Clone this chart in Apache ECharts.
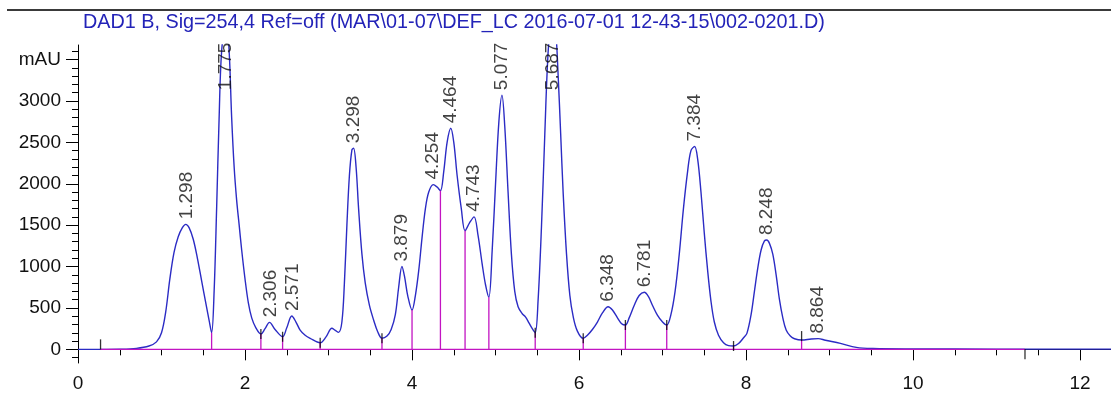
<!DOCTYPE html>
<html>
<head>
<meta charset="utf-8">
<script src="https://cdn.jsdelivr.net/npm/echarts@6/dist/echarts.min.js"></script>
<style>
  html, body { margin: 0; padding: 0; background: #fff; }
  #chart { width: 1111px; height: 396px; }
</style>
</head>
<body>
<div id="chart"></div>
<script>
// retention time (min) and signal (mAU)
const times = [0, 0.27, 0.5, 0.7, 0.85, 0.94, 1.0, 1.05, 1.1, 1.15, 1.2, 1.25, 1.29, 1.33, 1.38, 1.43, 1.48, 1.53, 1.57, 1.6,
  1.63, 1.66, 1.69, 1.72, 1.775, 1.81, 1.84, 1.87, 1.9, 1.93, 1.96, 2.0, 2.04, 2.08, 2.13, 2.19, 2.24, 2.293, 2.36, 2.45,
  2.5, 2.56, 2.61, 2.66, 2.72, 2.78, 2.9, 2.97, 3.04, 3.08, 3.12, 3.16, 3.19, 3.22, 3.25, 3.28, 3.3, 3.33, 3.36, 3.4, 3.44,
  3.49, 3.54, 3.59, 3.64, 3.7, 3.75, 3.8, 3.84, 3.879, 3.91, 3.95, 4.0, 4.04, 4.08, 4.12, 4.16, 4.2, 4.254, 4.3, 4.34,
  4.38, 4.42, 4.464, 4.5, 4.54, 4.59, 4.635, 4.69, 4.743, 4.79, 4.84, 4.88, 4.92, 4.96, 5.0, 5.04, 5.077, 5.11, 5.15,
  5.19, 5.23, 5.27, 5.32, 5.36, 5.4, 5.44, 5.475, 5.51, 5.55, 5.59, 5.62, 5.65, 5.687, 5.72, 5.75, 5.78, 5.81, 5.85,
  5.89, 5.93, 5.98, 6.05, 6.1, 6.16, 6.22, 6.28, 6.348, 6.4, 6.46, 6.51, 6.555, 6.6, 6.66, 6.72, 6.781, 6.83, 6.88,
  6.94, 7.0, 7.05, 7.1, 7.15, 7.2, 7.25, 7.3, 7.34, 7.384, 7.42, 7.46, 7.5, 7.54, 7.58, 7.62, 7.67, 7.73, 7.79, 7.85,
  7.91, 7.97, 8.01, 8.06, 8.1, 8.14, 8.18, 8.22, 8.248, 8.28, 8.32, 8.36, 8.4, 8.44, 8.48, 8.53, 8.58, 8.665, 8.78,
  8.864, 8.95, 9.13, 9.32, 9.52, 10.0, 11.0, 12.37];
const signal = [0, 0, 2, 12, 40, 90, 200, 450, 850, 1170, 1360, 1470, 1510, 1470, 1330, 1100, 830, 560, 350, 200,
  700, 1700, 2800, 3600, 4000, 3600, 2800, 2200, 1800, 1500, 1200, 850, 560, 380, 260, 185, 250, 326, 240, 152,
  260, 402, 330, 233, 170, 133, 80, 150, 254, 230, 205, 330, 800, 1500, 2100, 2410, 2430, 2200, 1700, 1150, 800,
  530, 354, 210, 134, 160, 240, 420, 750, 1000, 880, 640, 475, 650, 950, 1350, 1700, 1900, 1990, 1960, 1916,
  2150, 2500, 2670, 2500, 2100, 1700, 1433, 1530, 1600, 1380, 1030, 780, 630, 1200, 2000, 2750, 3070, 2700, 1900,
  1150, 700, 515, 430, 390, 320, 250, 200, 600, 1481, 2600, 3400, 3850, 4000, 3850, 3300, 2600, 1884, 1150,
  650, 394, 220, 133, 170, 240, 330, 440, 515, 475, 380, 310, 294, 380, 530, 650, 689, 640, 530,
  410, 330, 294, 420, 700, 1150, 1700, 2150, 2400, 2450, 2300, 1900, 1400, 950, 580, 330, 170, 80, 45, 40,
  70, 140, 193, 420, 700, 980, 1200, 1310, 1320, 1280, 1150, 900, 600, 380, 233, 160, 128, 112, 125,
  130, 110, 72, 24, 10, 5, 3, 3];

// integrated peaks
const peakTimes = [1.298, 1.775, 2.306, 2.571, 3.298, 3.879, 4.254, 4.464, 4.743, 5.077, 5.687, 6.348, 6.781, 7.384, 8.248, 8.864];
const peakHeights = [1510, 4000, 326, 402, 2430, 1000, 1990, 2670, 1600, 3070, 4000, 515, 689, 2450, 1320, 130];

// baseline and peak separation drops
const baseStart = 0.27, baseEnd = 11.34;
const dropTimes = [1.6, 2.19, 2.45, 2.9, 3.64, 4.0, 4.34, 4.635, 4.92, 5.475, 6.05, 6.555, 7.05, 7.85, 8.665];
const dropHeights = [200, 185, 152, 80, 134, 475, 1916, 1433, 630, 200, 133, 294, 294, 40, 112];
const markTimes = [2.19, 2.45, 2.9, 3.64, 5.475, 6.05, 6.555, 7.05, 7.85];
const markHeights = [185, 152, 80, 134, 200, 133, 294, 294, 40];

// axis ticks
const xMajor = [0, 2, 4, 6, 8, 10, 12];
const xMinor = [0.5, 1, 1.5, 2.5, 3, 3.5, 4.5, 5, 5.5, 6.5, 7, 7.5, 8.5, 9, 9.5, 10.5, 11, 11.5];
const yMajor = [0, 500, 1000, 1500, 2000, 2500, 3000, 3500];
const yMinor = [-100, 0, 100, 200, 300, 400, 500, 600, 700, 800, 900, 1000, 1100, 1200, 1300, 1400, 1500, 1600,
  1700, 1800, 1900, 2000, 2100, 2200, 2300, 2400, 2500, 2600, 2700, 2800, 2900, 3000, 3100, 3200, 3300, 3400, 3500, 3600];

const font = 'Liberation Sans, Arial, sans-serif';
const blue = '#2b2bc4';
const magenta = '#c214c2';

const chart = echarts.init(document.getElementById('chart'));

const trace = times.map((t, i) => [t, signal[i]]);
const drops = dropTimes.map((t, i) => [t, dropHeights[i]]);
const labelCap = 3070; // labels of clipped peaks sit at the top of the plot

const option = {
    animation: false,
    title: {
        text: 'DAD1 B, Sig=254,4 Ref=off (MAR\\01-07\\DEF_LC 2016-07-01 12-43-15\\002-0201.D)',
        left: 78,
        top: 8,
        textStyle: { color: '#2323b8', fontSize: 19.8, fontWeight: 'normal', fontFamily: font }
    },
    graphic: [{
        type: 'line',
        shape: { x1: 7, y1: 10, x2: 1111, y2: 10 },
        style: { stroke: '#3a3a3a', lineWidth: 2 }
    }],
    grid: { left: 78, right: 0, top: 45, bottom: 33 },
    xAxis: [{
        type: 'value',
        min: 0,
        max: 12.37,
        axisLine: { lineStyle: { color: '#000', width: 1 } },
        axisTick: { customValues: xMajor, length: 11, lineStyle: { color: '#000' } },
        axisLabel: { customValues: xMajor, color: '#111', fontSize: 19, fontFamily: font, margin: 11 },
        splitLine: { show: false }
    }, {
        type: 'value',
        position: 'bottom',
        min: 0,
        max: 12.37,
        axisLine: { show: false },
        axisTick: { customValues: xMinor, length: 6, lineStyle: { color: '#000' } },
        axisLabel: { show: false },
        splitLine: { show: false }
    }],
    yAxis: [{
        type: 'value',
        min: -165,
        max: 3676,
        axisLine: { show: true, lineStyle: { color: '#000', width: 1 } },
        axisTick: { show: true, customValues: yMinor, length: 6, lineStyle: { color: '#000' } },
        axisLabel: {
            customValues: yMajor,
            color: '#111', fontSize: 19, fontFamily: font, margin: 17,
            formatter: v => v === 3500 ? 'mAU' : String(v)
        },
        splitLine: { show: false }
    }, {
        type: 'value',
        position: 'left',
        min: -165,
        max: 3676,
        axisLine: { show: false },
        axisTick: { show: true, customValues: yMajor, length: 12, lineStyle: { color: '#000' } },
        axisLabel: { show: false },
        splitLine: { show: false }
    }],
    series: [{
        type: 'line',
        data: trace,
        showSymbol: false,
        smooth: 0.35,
        lineStyle: { color: blue, width: 1.4 },
        z: 2
    }, {
        type: 'line',
        data: [[baseStart, 0], [baseEnd, 0]],
        showSymbol: false,
        lineStyle: { color: magenta, width: 1.3 },
        z: 3
    }, {
        type: 'custom',
        data: drops,
        renderItem: function (params, api) {
            const top = api.coord([api.value(0), api.value(1)]);
            const bottom = api.coord([api.value(0), 0]);
            return {
                type: 'line',
                shape: { x1: top[0], y1: top[1], x2: bottom[0], y2: bottom[1] },
                style: { stroke: magenta, lineWidth: 1.3 }
            };
        },
        z: 3
    }, {
        type: 'scatter',
        data: markTimes.map((t, i) => [t, markHeights[i]])
            .concat([
                { value: [baseStart, 0], symbolOffset: [0, -5] },
                { value: [8.665, 112], symbolOffset: [0, -4] },
                { value: [baseEnd, 0], symbolOffset: [0, 5] }
            ]),
        symbol: 'rect',
        symbolSize: [1.3, 10],
        itemStyle: { color: '#000' },
        clip: false,
        silent: true,
        z: 4
    }, {
        type: 'scatter',
        data: peakTimes.map((t, i) => [t, Math.min(peakHeights[i], labelCap)]),
        symbolSize: 0,
        itemStyle: { color: 'transparent' },
        label: {
            show: true,
            position: 'top',
            distance: 5,
            rotate: 90,
            align: 'left',
            verticalAlign: 'middle',
            color: '#111',
            fontSize: 19,
            fontFamily: font,
            formatter: p => p.value[0].toFixed(3)
        },
        z: 5
    }]
};

chart.setOption(option);
</script>
</body>
</html>
